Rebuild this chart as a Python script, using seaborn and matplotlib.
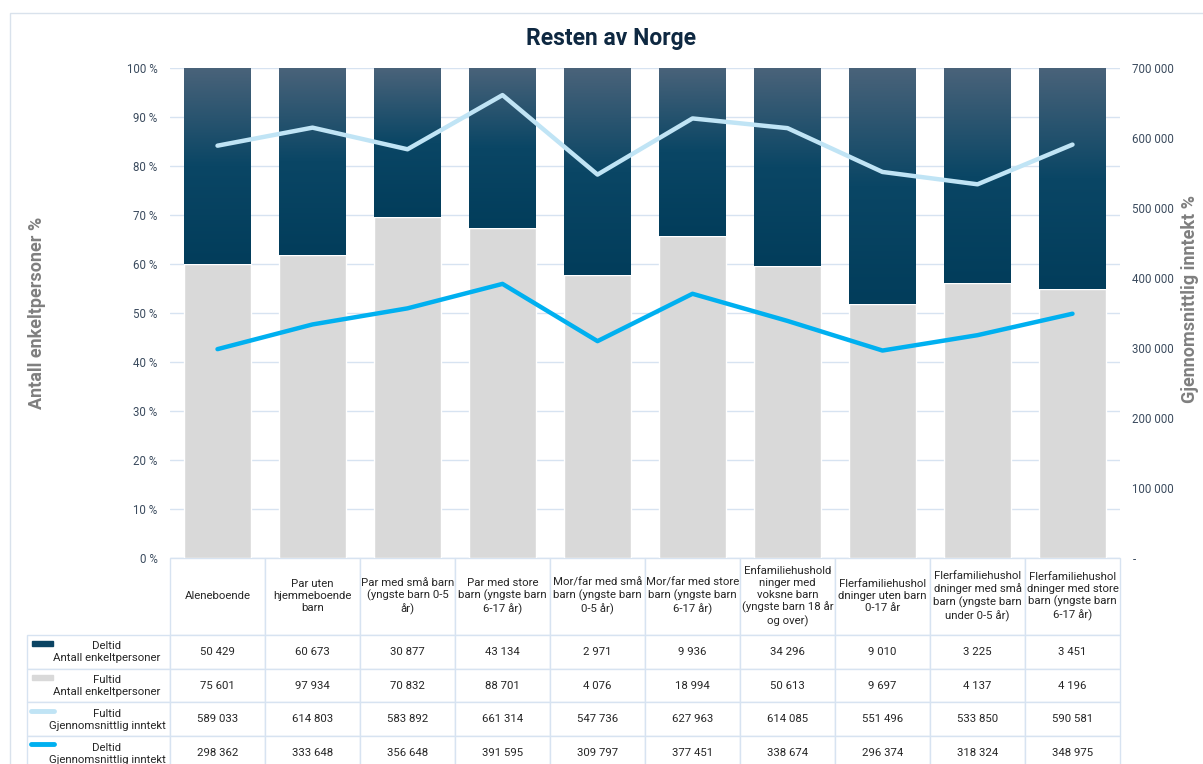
import numpy as np
import pandas as pd
import seaborn as sns
import matplotlib.pyplot as plt
from matplotlib.lines import Line2D
from matplotlib.patches import Rectangle
from matplotlib.colors import LinearSegmentedColormap
from matplotlib.ticker import FuncFormatter

categories = [
    "Aleneboende",
    "Par uten\nhjemmeboende\nbarn",
    "Par med små barn\n(yngste barn 0-5\når)",
    "Par med store\nbarn (yngste barn\n6-17 år)",
    "Mor/far med små\nbarn (yngste barn\n0-5 år)",
    "Mor/far med store\nbarn (yngste barn\n6-17 år)",
    "Enfamiliehushold\nninger med\nvoksne barn\n(yngste barn 18 år\nog over)",
    "Flerfamiliehushol\ndninger uten barn\n0-17 år",
    "Flerfamiliehushol\ndninger med små\nbarn (yngste barn\nunder 0-5 år)",
    "Flerfamiliehushol\ndninger med store\nbarn (yngste barn\n6-17 år)",
]
deltid_antall = [50429, 60673, 30877, 43134, 2971, 9936, 34296, 9010, 3225, 3451]
fultid_antall = [75601, 97934, 70832, 88701, 4076, 18994, 50613, 9697, 4137, 4196]
fultid_inntekt = [589033, 614803, 583892, 661314, 547736, 627963, 614085, 551496, 533850, 590581]
deltid_inntekt = [298362, 333648, 356648, 391595, 309797, 377451, 338674, 296374, 318324, 348975]

row_labels = [
    "Deltid\nAntall enkeltpersoner",
    "Fultid\nAntall enkeltpersoner",
    "Fultid\nGjennomsnittlig inntekt",
    "Deltid\nGjennomsnittlig inntekt",
]

df = pd.DataFrame({
    "kategori": categories,
    "deltid": deltid_antall,
    "fultid": fultid_antall,
    "fultid_inntekt": fultid_inntekt,
    "deltid_inntekt": deltid_inntekt,
})
df["fultid_pct"] = df["fultid"] / (df["fultid"] + df["deltid"]) * 100
df["total_pct"] = 100.0
df["pos"] = np.arange(len(df))


def fmt_num(v):
    return f"{v:,.0f}".replace(",", " ")


sns.set_theme(style="white")
plt.rcParams["font.family"] = ["Roboto", "DejaVu Sans"]

W, H = 1203, 764
fig = plt.figure(figsize=(W / 100, H / 100), dpi=100)
ax = fig.add_axes([170 / W, 1 - 558 / H, 950 / W, 490 / H])

tick_col = "#3b4b5e"
grid_col = "#d7e3f1"
grey = "#d9d9d9"
light_line = "#c0e4f5"
cyan_line = "#00b0f0"
txt_col = "#262626"

# mørke stolper (deltid) - hele stolpen først, så flyttes bunnen opp til fultid-andelen
sns.barplot(data=df, x="kategori", y="total_pct", color="#0b4463", saturation=1,
            width=0.7, ax=ax, zorder=2)
dark_patches = list(ax.patches)
for p, f in zip(dark_patches, df["fultid_pct"]):
    p.set_y(f)
    p.set_height(100 - f)

sns.barplot(data=df, x="kategori", y="fultid_pct", color=grey, saturation=1,
            width=0.7, ax=ax, zorder=2)

# gradient i de mørke stolpene
cmap = LinearSegmentedColormap.from_list("deltid", ["#023d5b", "#0a4665", "#4a637a"])
grad = np.linspace(0, 1, 256).reshape(-1, 1)
for p in dark_patches:
    x0, y0, w, h = p.get_x(), p.get_y(), p.get_width(), p.get_height()
    ax.imshow(grad, extent=[x0, x0 + w, y0, y0 + h], origin="lower", aspect="auto",
              cmap=cmap, zorder=2.5)
    p.set_visible(False)

ax.set_xlim(-0.5, len(df) - 0.5)
ax.set_ylim(0, 100)
ax.set_yticks(range(0, 101, 10))
ax.set_yticklabels([f"{v} %" for v in range(0, 101, 10)])
ax.tick_params(axis="y", length=0, pad=9, labelsize=8.3, labelcolor=tick_col)
ax.tick_params(axis="x", length=0, labelbottom=False)
ax.set_xlabel("")
ax.set_ylabel("")
ax.set_axisbelow(True)
ax.grid(axis="y", color=grid_col, linewidth=1)
for s in ax.spines.values():
    s.set_visible(False)

# inntektslinjer på sekundærakse
ax2 = ax.twinx()
sns.lineplot(data=df, x="pos", y="fultid_inntekt", color=light_line, linewidth=3.2,
             ax=ax2, legend=False, solid_capstyle="round")
sns.lineplot(data=df, x="pos", y="deltid_inntekt", color=cyan_line, linewidth=3.2,
             ax=ax2, legend=False, solid_capstyle="round")
ax2.set_xlim(-0.5, len(df) - 0.5)
ax2.set_ylim(0, 700000)
ax2.set_yticks(range(0, 700001, 100000))
ax2.yaxis.set_major_formatter(FuncFormatter(lambda v, _: "-" if v == 0 else fmt_num(v)))
ax2.tick_params(axis="y", length=0, pad=9, labelsize=8.3, labelcolor=tick_col)
ax2.set_xlabel("")
ax2.set_ylabel("")
ax2.grid(False)
for s in ax2.spines.values():
    s.set_visible(False)

# tittel og aksetitler
fig.text(611 / W, 1 - 38 / H, "Resten av Norge", ha="center", va="center",
         fontsize=16.5, fontweight="bold", color="#0e2841")
fig.text(37 / W, 1 - 313 / H, "Antall enkeltpersoner %", rotation=90, ha="center",
         va="center", fontsize=13, fontweight="bold", color="#7f7f7f")
fig.text(1190 / W, 1 - 299 / H, "Gjennomsnittlig inntekt %", rotation=90, ha="center",
         va="center", fontsize=13, fontweight="bold", color="#7f7f7f")

# datatabell - første kolonne er radoverskrifter, første rad er kategorier
table_rows = [[""] + categories]
for vals in (deltid_antall, fultid_antall, fultid_inntekt, deltid_inntekt):
    table_rows.append([""] + [fmt_num(v) for v in vals])

x0 = (27 - 170) / 950
y_bot = -(770 - 558) / 490
col_w = [143] + [95] * len(categories)
tbl = ax.table(cellText=table_rows, cellLoc="center",
               colWidths=[c / sum(col_w) for c in col_w],
               bbox=[x0, y_bot, 1 - x0, -y_bot])
tbl.auto_set_font_size(False)
tbl.set_fontsize(8.2)
for (r, c), cell in tbl.get_celld().items():
    cell.set_edgecolor(grid_col)
    cell.set_linewidth(1)
    cell.set_height(77 if r == 0 else 33.8)
    cell.get_text().set_color(txt_col)
    cell.get_text().set_linespacing(1.25)
    if r == 0 and c == 0:
        cell.visible_edges = "open"
tbl.set_clip_on(False)

row_y = [652, 686, 720, 754]
for lab, yy in zip(row_labels, row_y):
    fig.text(107 / W, 1 - yy / H, lab, ha="center", va="center", fontsize=8.2,
             color=txt_col, multialignment="center", linespacing=1.35)

# forklaring i radoverskriftene
sw_y = [643, 677, 711, 744]
fig.add_artist(Rectangle((32 / W, 1 - 646 / H), 21 / W, 5 / H, color="#0b4463",
                         transform=fig.transFigure))
fig.add_artist(Rectangle((32 / W, 1 - 680 / H), 21 / W, 5 / H, color=grey,
                         transform=fig.transFigure))
fig.add_artist(Line2D([31 / W, 54 / W], [1 - sw_y[2] / H] * 2, color=light_line, lw=3.5,
                      solid_capstyle="round", transform=fig.transFigure))
fig.add_artist(Line2D([31 / W, 54 / W], [1 - sw_y[3] / H] * 2, color=cyan_line, lw=3.5,
                      solid_capstyle="round", transform=fig.transFigure))

# ramme rundt diagramområdet
fig.add_artist(Rectangle((10 / W, -0.1), 1.2, 1 - 13 / H + 0.1, fill=False,
                         edgecolor="#d9e2ec", linewidth=1, transform=fig.transFigure))

fig.savefig("out.png", dpi=100)
